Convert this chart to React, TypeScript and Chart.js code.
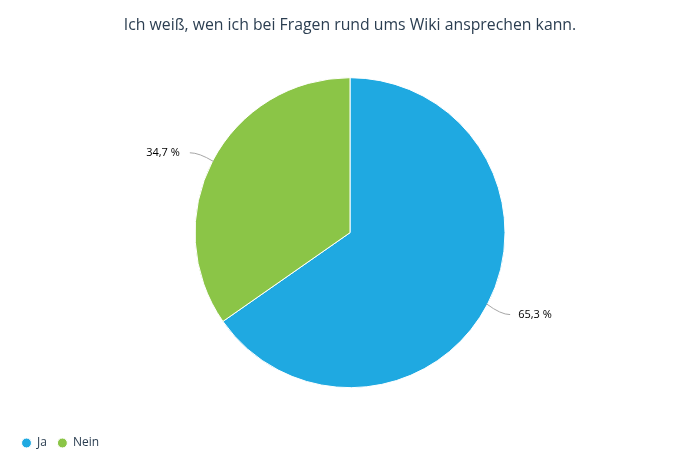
import React, { useEffect, useRef } from "react";
import { Chart, registerables } from "chart.js";

Chart.register(...registerables);

const TITLE = "Ich weiß, wen ich bei Fragen rund ums Wiki ansprechen kann.";
const CATEGORIES = ["Ja", "Nein"];
const VALUES = [65.3, 34.7];
const COLORS = ["#1fa9e1", "#8bc547"];
const FONT = "'Open Sans', 'DejaVu Sans', sans-serif";

const labelPlugin = {
  id: "pieLabels",
  afterDatasetsDraw(chart: any) {
    const ctx = chart.ctx;
    const meta = chart.getDatasetMeta(0);
    const data = chart.data.datasets[0].data as number[];
    ctx.save();
    meta.data.forEach((arc: any, i: number) => {
      const { x, y, startAngle, endAngle, outerRadius } = arc.getProps(
        ["x", "y", "startAngle", "endAngle", "outerRadius"],
        true
      );
      const mid = (startAngle + endAngle) / 2;
      const cos = Math.cos(mid);
      const sin = Math.sin(mid);
      const right = cos >= 0;
      const p0x = x + cos * (outerRadius - 1);
      const p0y = y + sin * (outerRadius - 1);
      const ex = x + cos * (outerRadius + 20) + (right ? 5 : -5);
      const ey = y + sin * (outerRadius + 20) + 1;
      const cx = x + cos * (outerRadius + 15);
      const cy = ey;
      ctx.strokeStyle = "#a6a6a6";
      ctx.lineWidth = 1;
      ctx.beginPath();
      ctx.moveTo(p0x, p0y);
      ctx.quadraticCurveTo(cx, cy, ex, ey);
      ctx.stroke();
      ctx.fillStyle = "#000";
      ctx.font = `11px ${FONT}`;
      ctx.textBaseline = "middle";
      ctx.textAlign = right ? "left" : "right";
      const txt = data[i].toFixed(1).replace(".", ",") + " %";
      ctx.fillText(txt, ex + (right ? 8 : -10), ey);
    });
    ctx.restore();
  },
};

export default function App() {
  const ref = useRef<HTMLCanvasElement>(null);
  useEffect(() => {
    const chart = new Chart(ref.current as HTMLCanvasElement, {
      type: "pie",
      data: {
        labels: CATEGORIES,
        datasets: [
          {
            data: VALUES,
            backgroundColor: COLORS,
            borderColor: "#ffffff",
            borderWidth: 1,
            radius: 155,
          },
        ],
      },
      options: {
        animation: false,
        responsive: false,
        maintainAspectRatio: false,
        layout: { padding: { left: 11, right: 11, bottom: 15, top: 0 } },
        plugins: {
          title: {
            display: true,
            text: TITLE,
            color: "#2b3e51",
            font: { family: FONT, size: 15.8, weight: "normal" },
            padding: { top: 16.5, bottom: 3.9 },
          },
          legend: {
            position: "bottom",
            align: "start",
            labels: {
              usePointStyle: true,
              pointStyle: "circle",
              boxWidth: 9,
              boxHeight: 7,
              padding: 11,
              color: "#2b3e51",
              font: { family: FONT, size: 12 },
            },
          },
          tooltip: { enabled: false },
        },
      },
      plugins: [labelPlugin],
    });
    return () => chart.destroy();
  }, []);
  return (
    <div style={{ position: "fixed", left: 0, top: 0, width: 700, height: 474, background: "#fff" }}>
      <canvas ref={ref} width={700} height={474} style={{ width: 700, height: 474 }} />
    </div>
  );
}
